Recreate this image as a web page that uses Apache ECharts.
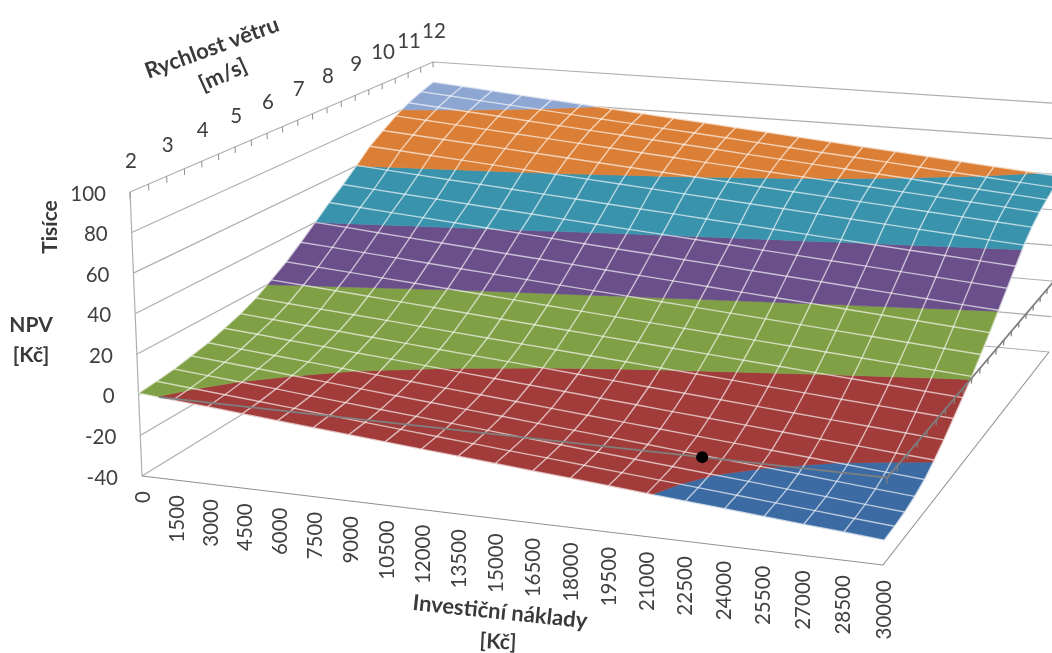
<!DOCTYPE html>
<html>
<head>
<meta charset="utf-8">
<title>NPV</title>
<script src="https://cdn.jsdelivr.net/npm/echarts@6/dist/echarts.min.js"></script>
<style>
html,body{margin:0;padding:0;background:#fff}
#chart{width:1052px;height:653px}
</style>
</head>
<body>
<div id="chart"></div>
<script>
// Investment cost categories [Kč]
const investCats = [0,1500,3000,4500,6000,7500,9000,10500,12000,13500,15000,16500,18000,19500,21000,22500,24000,25500,27000,28500,30000];
// Wind speed categories [m/s]; every second one carries a label
const windCats = [2,2.5,3,3.5,4,4.5,5,5.5,6,6.5,7,7.5,8,8.5,9,9.5,10,10.5,11,11.5,12];
const npvTicks = [-40,-20,0,20,40,60,80,100];
const breakEven = {invest: 23100, wind: 2, npv: 0};
// Where the NPV = 0 axis comes out from under the surface
const zeroAxisStart = 900;

// NPV in thousands of Kč, one array per wind speed, one value per investment category
const npvW2   = [0.8,-0.7,-2.1,-3.6,-5.1,-6.6,-8.0,-9.5,-11.0,-12.4,-13.9,-15.4,-16.8,-18.3,-19.8,-21.3,-22.7,-24.2,-25.7,-27.1,-28.6];
const npvW2_5 = [1.7,0.2,-1.3,-2.8,-4.3,-5.8,-7.3,-8.8,-10.3,-11.8,-13.3,-14.7,-16.2,-17.7,-19.2,-20.7,-22.2,-23.7,-25.2,-26.7,-28.2];
const npvW3   = [2.9,1.4,-0.1,-1.6,-3.2,-4.7,-6.2,-7.7,-9.2,-10.7,-12.3,-13.8,-15.3,-16.8,-18.3,-19.8,-21.3,-22.9,-24.4,-25.9,-27.4];
const npvW3_5 = [4.7,3.2,1.7,0.1,-1.4,-2.9,-4.5,-6.0,-7.5,-9.0,-10.6,-12.1,-13.6,-15.1,-16.7,-18.2,-19.7,-21.2,-22.8,-24.3,-25.8];
const npvW4   = [6.6,5.1,3.6,2.1,0.6,-0.9,-2.4,-3.9,-5.4,-6.9,-8.4,-9.9,-11.4,-12.9,-14.4,-15.9,-17.4,-18.9,-20.4,-21.9,-23.4];
const npvW4_5 = [9.4,8.0,6.5,5.1,3.6,2.2,0.7,-0.8,-2.2,-3.7,-5.1,-6.6,-8.0,-9.5,-10.9,-12.4,-13.8,-15.3,-16.7,-18.2,-19.6];
const npvW5   = [12.4,11.0,9.6,8.3,6.9,5.5,4.1,2.7,1.4,0.0,-1.4,-2.8,-4.2,-5.5,-6.9,-8.3,-9.7,-11.1,-12.4,-13.8,-15.2];
const npvW5_5 = [16.2,14.9,13.6,12.3,11.0,9.6,8.3,7.0,5.7,4.4,3.1,1.8,0.5,-0.8,-2.1,-3.5,-4.8,-6.1,-7.4,-8.7,-10.0];
const npvW6   = [21.4,20.1,18.8,17.5,16.2,14.9,13.5,12.2,10.9,9.6,8.3,7.0,5.7,4.4,3.1,1.8,0.4,-0.9,-2.2,-3.5,-4.8];
const npvW6_5 = [26.8,25.5,24.2,22.9,21.6,20.3,19.0,17.7,16.4,15.1,13.8,12.5,11.2,9.9,8.6,7.3,6.0,4.7,3.4,2.1,0.8];
const npvW7   = [33.2,31.9,30.6,29.3,28.0,26.6,25.3,24.0,22.7,21.4,20.1,18.8,17.5,16.2,14.9,13.6,12.2,10.9,9.6,8.3,7.0];
const npvW7_5 = [40.0,38.7,37.3,36.0,34.7,33.4,32.0,30.7,29.4,28.0,26.7,25.4,24.0,22.7,21.4,20.1,18.7,17.4,16.1,14.7,13.4];
const npvW8   = [47.0,45.7,44.3,43.0,41.7,40.3,39.0,37.7,36.3,35.0,33.7,32.3,31.0,29.6,28.3,27.0,25.6,24.3,23.0,21.6,20.3];
const npvW8_5 = [53.2,51.9,50.6,49.3,48.0,46.7,45.4,44.1,42.8,41.5,40.3,39.0,37.7,36.4,35.1,33.8,32.5,31.2,29.9,28.6,27.3];
const npvW9   = [60.2,58.9,57.6,56.3,55.1,53.8,52.5,51.2,49.9,48.6,47.4,46.1,44.8,43.5,42.2,40.9,39.6,38.3,37.1,35.8,34.5];
const npvW9_5 = [67.5,66.2,64.9,63.6,62.3,61.0,59.7,58.4,57.1,55.8,54.5,53.2,51.9,50.6,49.3,48.0,46.7,45.4,44.1,42.8,41.5];
const npvW10  = [73.0,71.7,70.4,69.1,67.8,66.5,65.2,63.9,62.6,61.3,60.0,58.7,57.4,56.1,54.8,53.5,52.2,50.9,49.6,48.3,47.0];
const npvW10_5= [78.0,76.7,75.3,74.0,72.6,71.3,69.9,68.6,67.2,65.9,64.5,63.2,61.8,60.5,59.1,57.8,56.4,55.1,53.7,52.4,51.0];
const npvW11  = [82.3,80.9,79.5,78.1,76.6,75.2,73.8,72.4,71.0,69.6,68.2,66.7,65.3,63.9,62.5,61.1,59.7,58.2,56.8,55.4,54.0];
const npvW11_5= [85.5,84.1,82.6,81.2,79.8,78.3,76.9,75.5,74.0,72.6,71.2,69.7,68.3,66.8,65.4,64.0,62.5,61.1,59.7,58.2,56.8];
const npvW12  = [88.0,86.6,85.1,83.7,82.2,80.8,79.3,77.9,76.4,75.0,73.5,72.1,70.6,69.2,67.7,66.3,64.8,63.4,61.9,60.5,59.0];
const npvRows = [npvW2,npvW2_5,npvW3,npvW3_5,npvW4,npvW4_5,npvW5,npvW5_5,npvW6,npvW6_5,npvW7,npvW7_5,npvW8,npvW8_5,npvW9,npvW9_5,npvW10,npvW10_5,npvW11,npvW11_5,npvW12];

// Value bands of the surface and their fills
const bandLimits = [-40,-20,0,20,40,60,80,100];
const bandColors = ['#3c6ba3','#a23c3b','#80a046','#6b4f8a','#3a93ac','#dc7f36','#8ea6d2'];

const INK = '#404040';
const WALL = '#aeaeae';
const LABEL = '20.5px Lato, "Open Sans", sans-serif';
const TITLE = 'bold 21px Lato, "Open Sans", sans-serif';
const TITLE_LONG = 'bold 22px Lato, "Open Sans", sans-serif';

// Perspective of the chart box: corners of its floor and ceiling as seen on the page,
// ordered front-left, front-right, back-right, back-left.
const floorQuad = [[142,476],[883,565],[1049,352],[436,295]];
const ceilQuad  = [[130,192],[898,259],[1066,104],[433,62]];

function squareToQuad(q) {
  const [p0,p1,p2,p3] = q;
  const sx = p0[0]-p1[0]+p2[0]-p3[0], sy = p0[1]-p1[1]+p2[1]-p3[1];
  const dx1 = p1[0]-p2[0], dx2 = p3[0]-p2[0], dy1 = p1[1]-p2[1], dy2 = p3[1]-p2[1];
  const det = dx1*dy2-dx2*dy1;
  const g = (sx*dy2-dx2*sy)/det, h = (dx1*sy-sx*dy1)/det;
  const ax = p1[0]-p0[0]+g*p1[0], bx = p3[0]-p0[0]+h*p3[0];
  const ay = p1[1]-p0[1]+g*p1[1], by = p3[1]-p0[1]+h*p3[1];
  return (u,v) => {
    const w = 1+g*u+h*v;
    return [(ax*u+bx*v+p0[0])/w, (ay*u+by*v+p0[1])/w];
  };
}
const floorMap = squareToQuad(floorQuad);
const ceilMap = squareToQuad(ceilQuad);
const investMax = investCats[investCats.length-1];
const windMin = windCats[0], windMax = windCats[windCats.length-1];
const npvMin = npvTicks[0], npvMax = npvTicks[npvTicks.length-1];

// (investment, wind, NPV) to page position
function project(invest, wind, npv) {
  const u = invest/investMax, v = (wind-windMin)/(windMax-windMin), w = (npv-npvMin)/(npvMax-npvMin);
  const a = floorMap(u,v), b = ceilMap(u,v);
  return [a[0]+(b[0]-a[0])*w, a[1]+(b[1]-a[1])*w];
}

// Keep the part of a polygon of [invest,wind,npv] points that lies inside lo..hi
function clipBand(poly, lo, hi) {
  const clip = (pts, keep, limit) => {
    const out = [];
    for (let i=0;i<pts.length;i++) {
      const a = pts[i], b = pts[(i+1)%pts.length];
      const ia = keep(a[2]), ib = keep(b[2]);
      if (ia) out.push(a);
      if (ia !== ib) {
        const t = (limit-a[2])/(b[2]-a[2]);
        out.push([a[0]+(b[0]-a[0])*t, a[1]+(b[1]-a[1])*t, limit]);
      }
    }
    return out;
  };
  let r = clip(poly, z => z>=lo, lo);
  if (r.length) r = clip(r, z => z<=hi, hi);
  return r;
}

const lineEl = (api, pts, stroke, width) => ({
  type:'polyline', silent:true,
  shape:{points: pts.map(p => api.coord(project(p[0],p[1],p[2])))},
  style:{fill:null, stroke:stroke, lineWidth:width}
});
const textEl = (api, pos, text, dx, dy, align, rotation) => {
  const c = api.coord(pos);
  return {type:'text', x:c[0]+dx, y:c[1]+dy, rotation:rotation||0, silent:true,
    style:{text:String(text), fill:INK, font:LABEL, align:align, verticalAlign:'middle'}};
};

// Back walls, floor outline and the wind axis along the top of the side wall
function renderBox(params, api) {
  const ch = [];
  npvTicks.forEach(n => {
    ch.push(lineEl(api, [[0,windMin,n],[0,windMax,n],[investMax,windMax,n]], WALL, 1.2));
  });
  ch.push(lineEl(api, [[0,windMin,npvMin],[0,windMin,npvMax]], WALL, 1.2));
  ch.push(lineEl(api, [[0,windMin,npvMin],[investMax,windMin,npvMin],[investMax,windMax,npvMin]], '#8f8f8f', 1.1));
  windCats.forEach(w => {
    ch.push(lineEl(api, [[0,w,npvMax],[0,w,npvMax-3.2]], '#8f8f8f', 1));
  });
  return {type:'group', children:ch};
}

// One grid cell of the surface, split along the value bands
function renderCell(params, api) {
  const j = api.value(0), i = api.value(1);
  const cell = [
    [investCats[j],windCats[i],npvRows[i][j]],
    [investCats[j+1],windCats[i],npvRows[i][j+1]],
    [investCats[j+1],windCats[i+1],npvRows[i+1][j+1]],
    [investCats[j],windCats[i+1],npvRows[i+1][j]]
  ];
  const ch = [];
  bandColors.forEach((color,b) => {
    const part = clipBand(cell, bandLimits[b], bandLimits[b+1]);
    if (part.length > 2) {
      ch.push({type:'polygon', silent:true,
        shape:{points: part.map(p => api.coord(project(p[0],p[1],p[2])))},
        style:{fill:color, stroke:color, lineWidth:0.6}});
    }
  });
  return {type:'group', children:ch};
}

// Light mesh over the surface
function renderMesh(params, api) {
  const ch = [];
  const stroke = 'rgba(255,255,255,0.62)';
  windCats.forEach((w,i) => {
    ch.push(lineEl(api, investCats.map((c,j) => [c,w,npvRows[i][j]]), stroke, 1.4));
  });
  investCats.forEach((c,j) => {
    ch.push(lineEl(api, windCats.map((w,i) => [c,w,npvRows[i][j]]), stroke, 1.4));
  });
  return {type:'group', children:ch};
}

// Axis lines in the NPV = 0 plane, with the wind ticks, and the marked point
function renderZeroAxes(params, api) {
  const stroke = '#7f7f7f';
  const ch = [lineEl(api, [[zeroAxisStart,windMin,0],[investMax,windMin,0],[investMax,windMax,0]], stroke, 1.8)];
  windCats.forEach(w => ch.push(lineEl(api, [[investMax,w,0],[investMax,w,-2.8]], stroke, 1.2)));
  const c = api.coord(project(breakEven.invest, breakEven.wind, breakEven.npv));
  ch.push({type:'circle', silent:true, shape:{cx:c[0], cy:c[1], r:6}, style:{fill:'#000'}});
  return {type:'group', children:ch};
}

function renderLabels(params, api) {
  const ch = [];
  npvTicks.forEach(n => ch.push(textEl(api, project(0,windMin,n), n, -24, 2, 'right')));
  investCats.forEach(c => ch.push(textEl(api, project(c,windMin,npvMin), c, 1, 15, 'right', Math.PI/2)));
  windCats.filter(w => Number.isInteger(w)).forEach(w =>
    ch.push(textEl(api, project(0,w,npvMax), w, 1, -31, 'center')));
  return {type:'group', children:ch};
}

const cellData = [];
for (let i=windCats.length-2;i>=0;i--) {
  for (let j=0;j<investCats.length-1;j++) cellData.push([j,i]);
}

const titleEl = (text,x,y,rot,font) => ({type:'text', x:x, y:y, rotation:rot||0, silent:true, z:50,
  style:{text:text, fill:'#3a3a3a', font:font||TITLE, align:'center', verticalAlign:'middle'}});

const chart = echarts.init(document.getElementById('chart'), null, {renderer:'canvas'});
chart.setOption({
  animation:false,
  backgroundColor:'#ffffff',
  tooltip:{show:false},
  grid:{left:0,right:0,top:0,bottom:0},
  xAxis:{type:'value',min:0,max:1052,show:false},
  yAxis:{type:'value',min:0,max:653,inverse:true,show:false},
  graphic:[
    titleEl('Rychlost větru',212,48,0.35,TITLE_LONG),
    titleEl('[m/s]',223,75,0.42,TITLE_LONG),
    titleEl('Tisíce',50,227,Math.PI/2),
    titleEl('NPV',31,325),
    titleEl('[Kč]',31,355),
    titleEl('Investiční náklady',500,612,-0.105,TITLE_LONG),
    titleEl('[Kč]',498,642,-0.05)
  ],
  series:[
    {type:'custom',name:'box',clip:false,silent:true,z:1,renderItem:renderBox,data:[[0,0]]},
    {type:'custom',name:'surface',clip:false,silent:true,z:2,renderItem:renderCell,data:cellData},
    {type:'custom',name:'mesh',clip:false,silent:true,z:3,renderItem:renderMesh,data:[[0,0]]},
    {type:'custom',name:'zero axes',clip:false,silent:true,z:4,renderItem:renderZeroAxes,data:[[0,0]]},
    {type:'custom',name:'labels',clip:false,silent:true,z:5,renderItem:renderLabels,data:[[0,0]]}
  ]
});
</script>
</body>
</html>
